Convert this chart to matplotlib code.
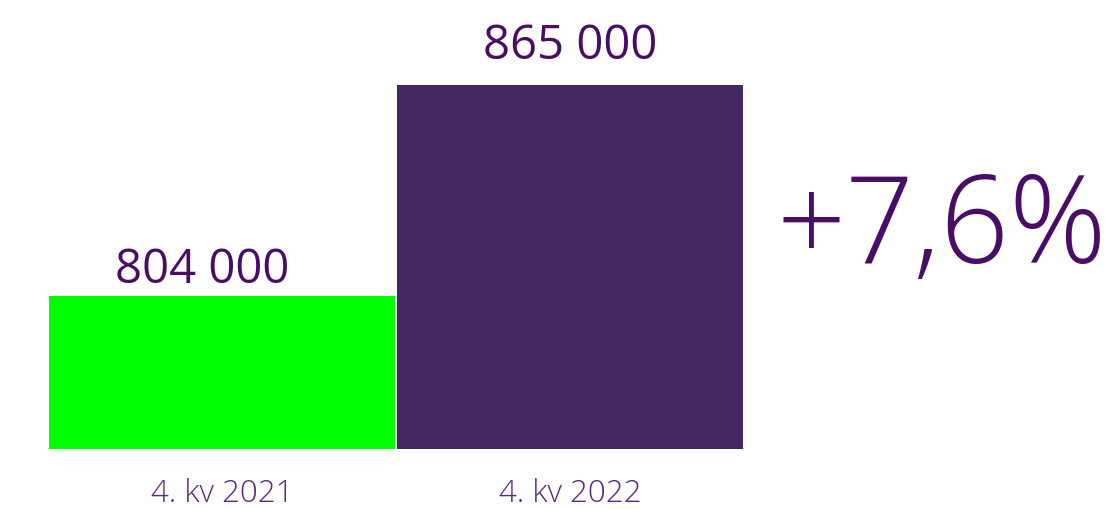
import matplotlib
matplotlib.use("Agg")
import matplotlib.pyplot as plt

categories = ["4. kv 2021", "4. kv 2022"]
values = [804000, 865000]
value_labels = ["804 000", "865 000"]
change_label = "+7,6%"
bar_colors = ["#00FF00", "#432761"]

plt.rcParams['font.family'] = ['Open Sans', 'DejaVu Sans']
text_color = "#4A0D67"

fig = plt.figure(figsize=(11.06, 5.10), dpi=100)
W, H = 1106, 510
ax = fig.add_axes([48 / W, 1 - 450 / H, (744 - 48) / W, (450 - 86) / H])
x = [0, 1]
ax.bar(x, values, width=0.994, color=bar_colors, bottom=0)
ax.set_xlim(-0.5, 1.5)
ax.set_ylim(760000, 865000)
for s in ax.spines.values():
    s.set_visible(False)
ax.axhline(760000, color="#D9D9D9", lw=2, zorder=0)
ax.set_xticks([])
ax.set_yticks([])

# value labels
label_offsets = [-0.056, 0.0]
label_gap = [14, 27]
for xi, v, lab, off, g in zip(x, values, value_labels, label_offsets, label_gap):
    ax.annotate(lab, (xi + off, v), xytext=(0, g), textcoords="offset pixels",
                ha="center", va="baseline", fontsize=34, color=text_color,
                fontweight="normal")

# category labels
for xi, c in zip(x, categories):
    ax.annotate(c, (xi, 760000), xytext=(0, -52), textcoords="offset pixels",
                ha="center", va="baseline", fontsize=22.5, color="#5B2A7E",
                fontweight="light")

fig.text(942 / W, 1 - 263 / H, change_label, ha="center", va="baseline",
         fontsize=87, color=text_color, fontweight="light")

fig.savefig("out.png", dpi=100)
